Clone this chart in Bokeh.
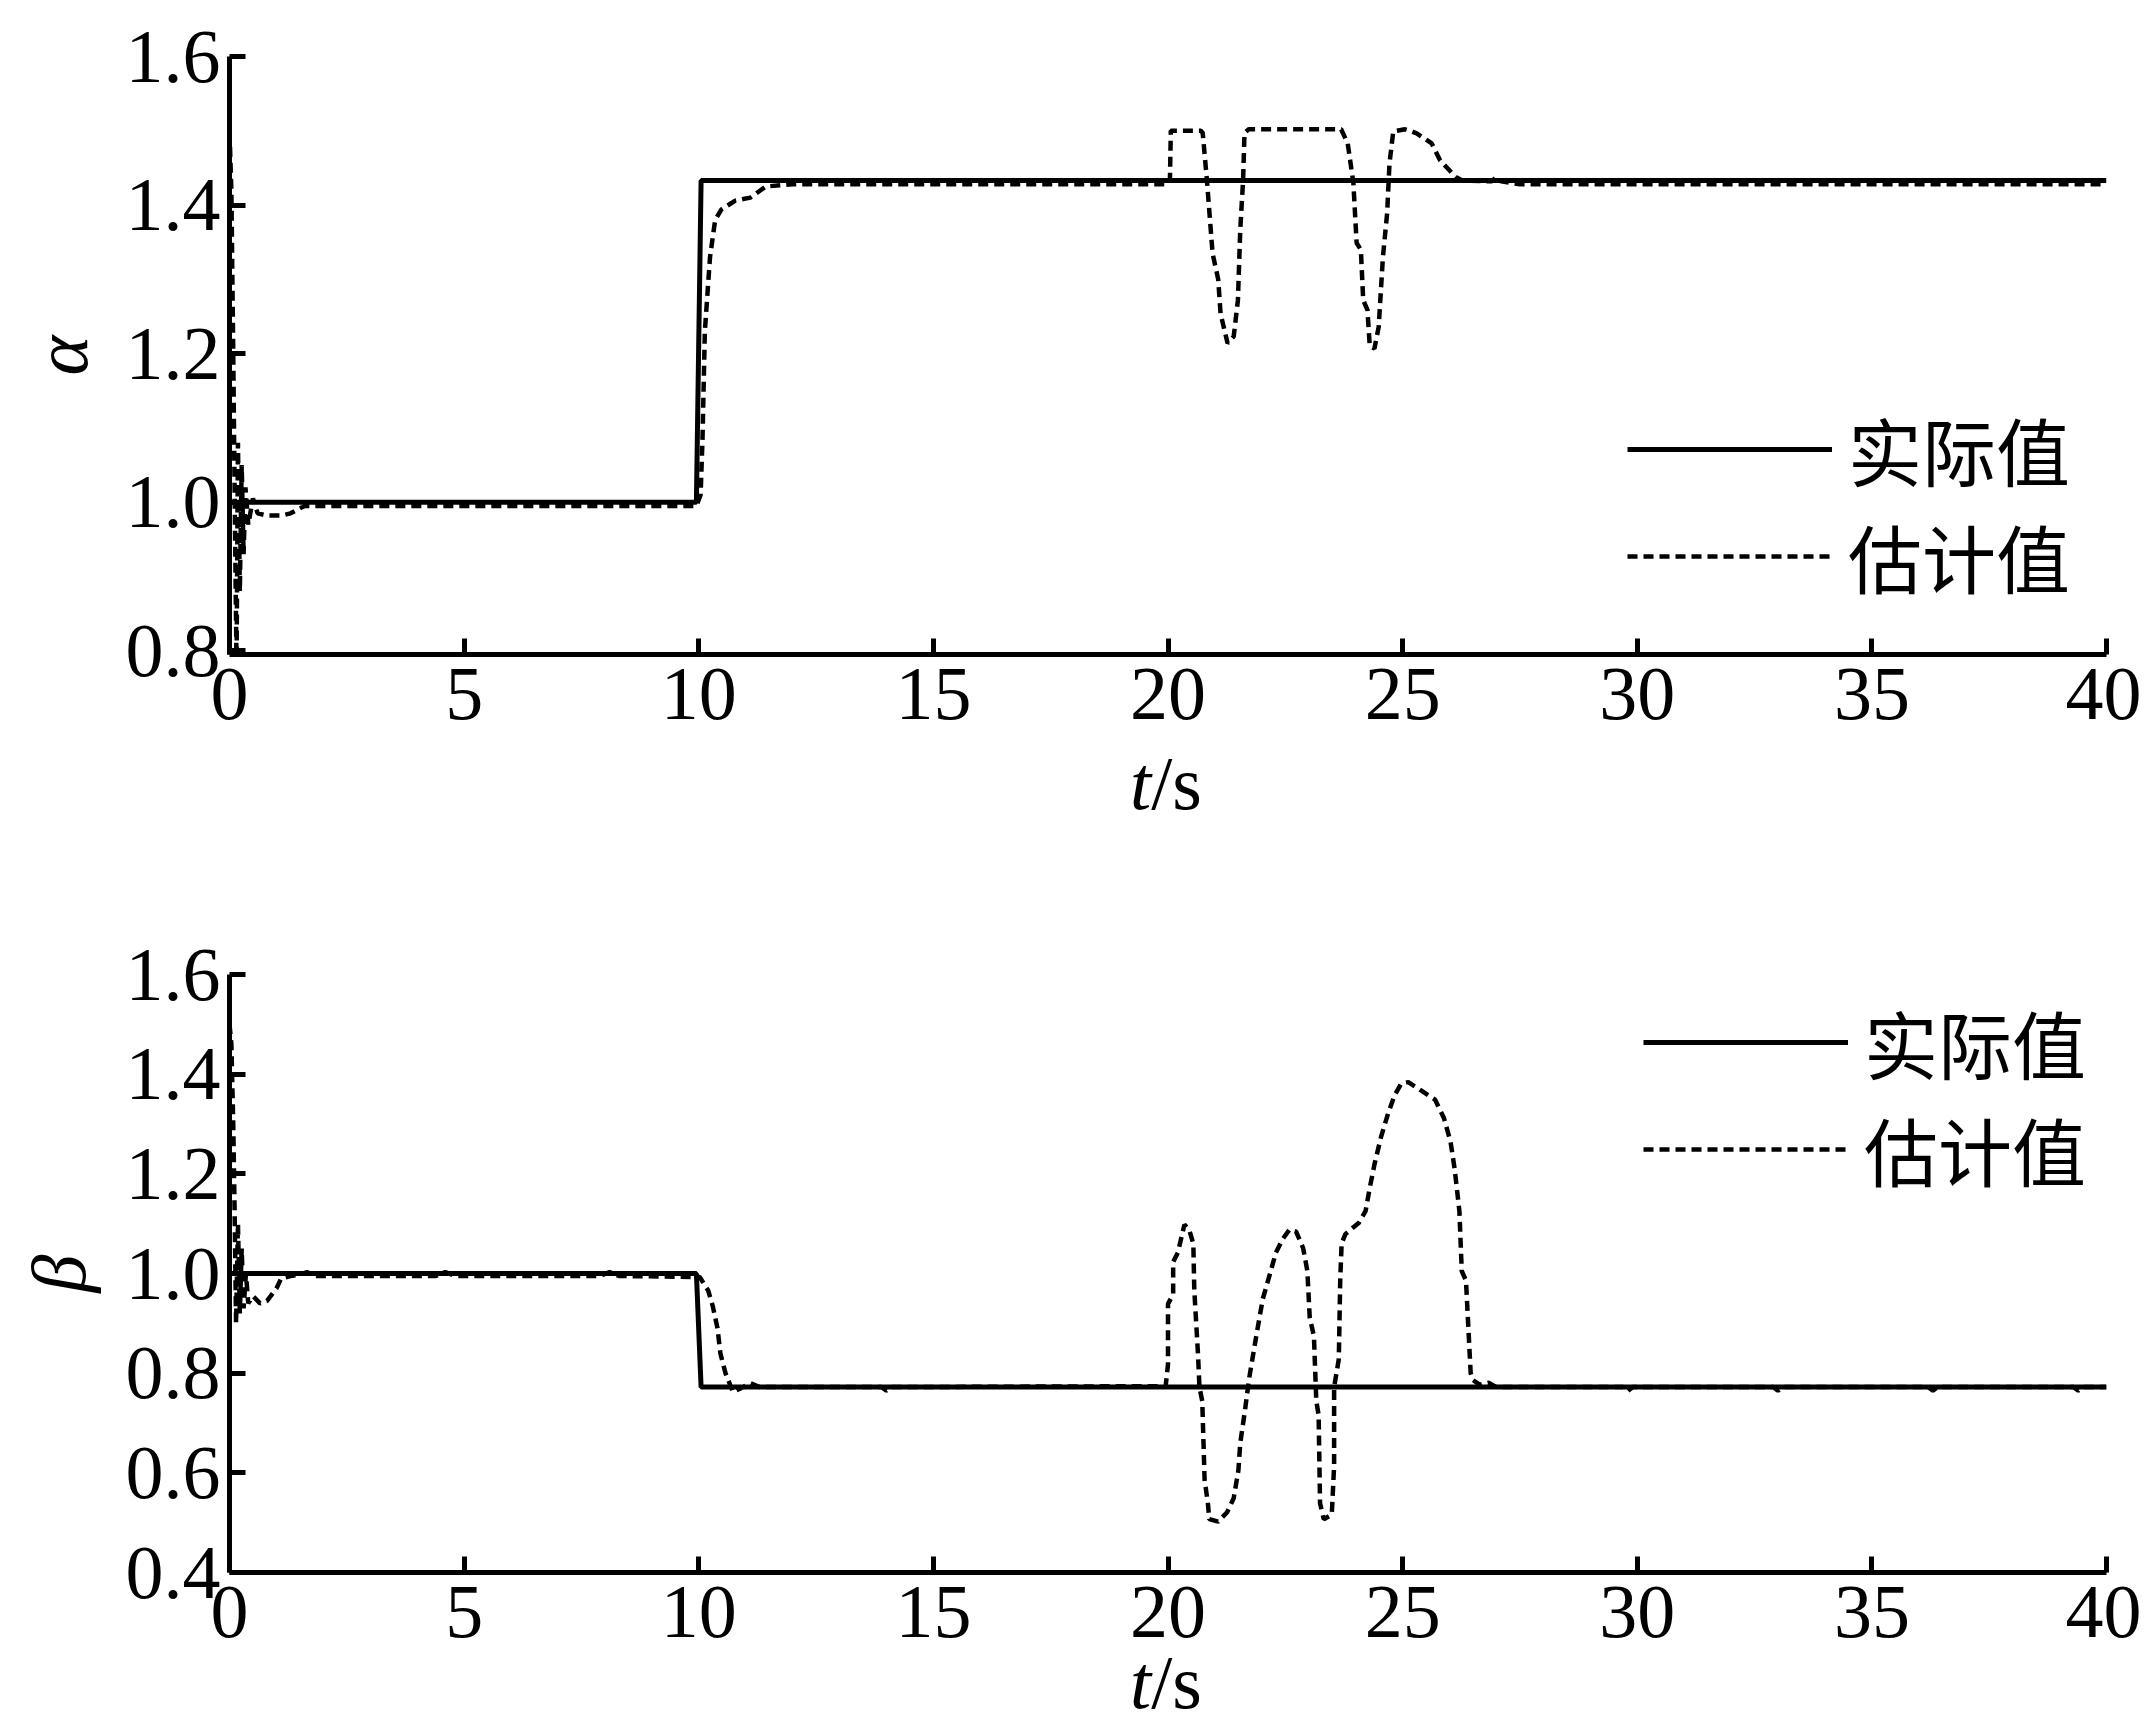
from bokeh.plotting import figure
from bokeh.layouts import column
from bokeh.models import (Range1d, FixedTicker, PrintfTickFormatter, Legend,
                          LegendItem, Div)
from bokeh.embed import file_html
from bokeh.resources import INLINE

# ---------------- data ----------------
x_ticks = [0, 5, 10, 15, 20, 25, 30, 35, 40]
alpha_ticks = [0.8, 1.0, 1.2, 1.4, 1.6]
beta_ticks = [0.4, 0.6, 0.8, 1.0, 1.2, 1.4, 1.6]
legend_labels = ["实际值", "估计值"]
x_label_var = "t"
x_label_unit = "/s"

t_alpha_actual = [0.0, 9.95, 10.05, 40.0]
alpha_actual = [1.0, 1.0, 1.433, 1.433]

t_alpha_est = [0.00, 0.04, 0.08, 0.12, 0.15, 0.18, 0.22, 0.26, 0.30, 0.34, 0.40,
               0.50, 0.60, 0.80, 1.10, 1.30, 1.60, 9.95, 10.04, 10.08, 10.13,
               10.24, 10.35, 10.48, 10.78, 11.10, 11.43, 12.0, 19.95, 20.04,
               20.06, 20.70, 20.74, 20.83, 20.95, 21.07, 21.12, 21.27, 21.40,
               21.49, 21.54, 21.60, 21.63, 21.72, 23.69, 23.83, 23.95, 24.02,
               24.11, 24.16, 24.25, 24.30, 24.40, 24.49, 24.58, 24.67, 24.72,
               24.80, 25.05, 25.29, 25.62, 25.80, 26.13, 26.27, 26.9, 27.0,
               27.1, 27.5, 40.0]
alpha_est = [1.50, 1.42, 1.20, 0.95, 0.78, 1.08, 0.88, 1.05, 0.93, 1.02, 0.97,
             1.005, 0.985, 0.982, 0.982, 0.985, 0.995, 0.995, 1.01, 1.085, 1.23,
             1.33, 1.38, 1.394, 1.406, 1.41, 1.425, 1.428, 1.428, 1.43,
             1.50, 1.50, 1.497, 1.433, 1.335, 1.30, 1.254, 1.214, 1.223,
             1.272, 1.367, 1.433, 1.497, 1.502, 1.502, 1.483, 1.43, 1.349,
             1.34, 1.272, 1.259, 1.21, 1.207, 1.236, 1.33, 1.389, 1.456,
             1.499, 1.502, 1.497, 1.483, 1.46, 1.438, 1.433, 1.432, 1.438,
             1.432, 1.428, 1.428]

t_beta_actual = [0.0, 9.95, 10.05, 40.0]
beta_actual = [1.0, 1.0, 0.772, 0.772]

t_beta_est = [0.00, 0.04, 0.08, 0.11, 0.14, 0.18, 0.22, 0.26, 0.30, 0.35, 0.40,
              0.50, 0.65, 0.80, 1.00, 1.10, 1.30, 1.50, 1.65, 1.80, 4.4, 4.6,
              4.8, 7.9, 8.1, 8.3, 10.02, 10.20, 10.30, 10.40, 10.46, 10.57,
              10.73, 10.90, 11.10, 11.3, 13.9, 14.0, 14.1, 19.95, 20.0, 20.0,
              20.11, 20.11, 20.21, 20.35, 20.45, 20.54, 20.56, 20.64, 20.67,
              20.73, 20.78, 20.85, 20.88, 21.07, 21.26, 21.40, 21.50, 21.54,
              21.64, 21.73, 21.88, 22.02, 22.16, 22.30, 22.45, 22.59, 22.73,
              22.88, 22.97, 23.02, 23.11, 23.16, 23.21, 23.24, 23.32, 23.49,
              23.54, 23.54, 23.64, 23.67, 23.70, 23.78, 24.07, 24.21, 24.30,
              24.40, 24.54, 24.69, 24.83, 24.97, 25.12, 25.40, 25.69, 25.88,
              26.02, 26.11, 26.21, 26.26, 26.35, 26.40, 26.45, 26.50, 26.64,
              26.83, 27.0, 29.7, 29.78, 29.9, 32.9, 33.0, 33.1, 36.2, 36.3,
              36.4, 39.3, 39.4, 39.5, 40.0]
beta_est = [1.50, 1.46, 1.30, 1.12, 0.90, 1.10, 0.92, 1.05, 0.93, 1.00, 0.94,
            0.955, 0.94, 0.945, 0.97, 0.99, 0.995, 0.998, 1.003, 0.995, 0.995,
            1.003, 0.995, 0.995, 1.003, 0.995, 0.993, 0.966, 0.934, 0.89, 0.84,
            0.80, 0.762, 0.77, 0.78, 0.772, 0.772, 0.765, 0.772, 0.774, 0.818,
            0.939, 0.958, 1.023, 1.042, 1.098, 1.088, 1.06, 0.967, 0.837, 0.772,
            0.744, 0.586, 0.539, 0.507, 0.502, 0.521, 0.549, 0.605, 0.66,
            0.725, 0.79, 0.874, 0.949, 0.995, 1.042, 1.07, 1.088, 1.084,
            1.051, 1.005, 0.912, 0.874, 0.744, 0.716, 0.539, 0.507, 0.516,
            0.614, 0.772, 0.828, 0.986, 1.06, 1.079, 1.102, 1.125, 1.172,
            1.219, 1.274, 1.321, 1.358, 1.381, 1.384, 1.367, 1.349, 1.312,
            1.265, 1.209, 1.125, 1.005, 0.986, 0.893, 0.80, 0.786, 0.777,
            0.781, 0.772, 0.772, 0.763, 0.772, 0.772, 0.765, 0.772, 0.772,
            0.765, 0.772, 0.772, 0.765, 0.772, 0.772]

SERIF = "Liberation Serif"
CJK = "Noto Sans CJK SC"
FS = "76px"


def make_panel(y_start, y_end, yticks, ylabel, t_act, v_act, t_est, v_est,
               border_top, legend_loc, legend_spacing, label_standoff):
    p = figure(frame_width=1877, frame_height=598,
               x_range=Range1d(0, 40), y_range=Range1d(y_start, y_end),
               output_backend="svg", toolbar_location=None,
               min_border_left=229, min_border_right=35,
               min_border_top=border_top, min_border_bottom=90)
    p.outline_line_color = None
    p.xgrid.visible = False
    p.ygrid.visible = False
    p.background_fill_color = "white"

    r_act = p.line(t_act, v_act, line_color="black", line_width=5)
    r_est = p.line(t_est, v_est, line_color="black", line_width=4.5,
                   line_dash="10 6")

    for ax in (p.xaxis[0], p.yaxis[0]):
        ax.axis_line_width = 5
        ax.major_tick_line_width = 5
        ax.major_tick_in = 16
        ax.major_tick_out = 0
        ax.minor_tick_line_color = None
        ax.major_label_text_font = SERIF
        ax.major_label_text_font_size = FS
        ax.major_label_text_color = "black"
        ax.axis_line_color = "black"
        ax.major_tick_line_color = "black"

    p.xaxis.ticker = FixedTicker(ticks=x_ticks)
    p.xaxis.major_label_standoff = 14
    p.yaxis.ticker = FixedTicker(ticks=yticks)
    p.yaxis.formatter = PrintfTickFormatter(format="%.1f")
    p.yaxis.major_label_standoff = 9
    p.yaxis.axis_label = ylabel
    p.yaxis.axis_label_text_font = SERIF
    p.yaxis.axis_label_text_font_style = "italic"
    p.yaxis.axis_label_text_font_size = FS
    p.yaxis.axis_label_text_color = "black"
    p.yaxis.axis_label_standoff = label_standoff

    leg = Legend(items=[LegendItem(label=legend_labels[0], renderers=[r_act]),
                        LegendItem(label=legend_labels[1], renderers=[r_est])],
                 location=legend_loc, glyph_width=205, glyph_height=100,
                 label_height=100, spacing=legend_spacing, padding=0, margin=0,
                 label_standoff=16,
                 label_text_font=CJK, label_text_font_size="74px",
                 label_text_color="black",
                 label_text_baseline="middle",
                 border_line_alpha=0, background_fill_alpha=0)
    p.add_layout(leg)
    return p


def t_label(line_height, height):
    html = ('<div style="font-family: \'Liberation Serif\'; font-size: %s; '
            'line-height: %dpx; white-space: nowrap; color: black;">'
            '<i>%s</i>%s</div>' % (FS, line_height, x_label_var, x_label_unit))
    return Div(text=html, width=120, height=height, margin=(0, 0, 0, 1130))


p1 = make_panel(0.795, 1.6, alpha_ticks, "α", t_alpha_actual, alpha_actual,
                t_alpha_est, alpha_est, 56, (1398, 45), -8, 20)
d1 = t_label(78, 80)
p2 = make_panel(0.4, 1.6, beta_ticks, "β", t_beta_actual, beta_actual,
                t_beta_est, beta_est, 150, (1414, 370), -9, 22)
d2 = t_label(40, 48)

layout = column(p1, d1, p2, d2, spacing=0)
open("out.html", "w").write(file_html(layout, INLINE))
